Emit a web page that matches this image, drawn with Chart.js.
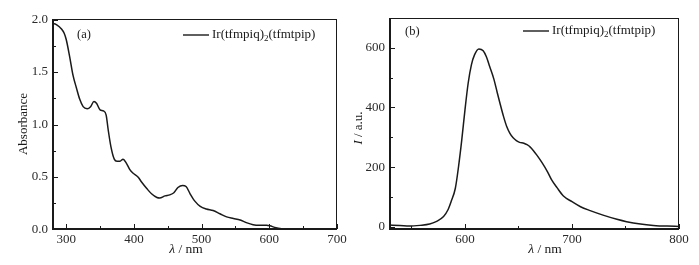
<!DOCTYPE html>
<html><head><meta charset="utf-8">
<script src="https://cdn.jsdelivr.net/npm/chart.js@4"></script>
<style>
html,body{margin:0;padding:0;background:#fff;}
#wrap{position:relative;width:699px;height:265px;overflow:hidden;}
.p{position:absolute;top:0;height:265px;}
canvas{display:block;}
</style></head><body>
<div id="wrap">
<div class="p" style="left:0;width:350px"><canvas id="ca" width="350" height="265"></canvas></div>
<div class="p" style="left:350px;width:349px"><canvas id="cb" width="349" height="265"></canvas></div>
</div>
<script>
// ---- data: (a) absorption ----
const absWavelength = [279,282,286,293,297,300,305,310,315,320,325,331,336,341,345,350,355,359,362,366,371,375,379,384,389,394,399,406,411,419,426,434,438,446,453,459,465,472,477,483,490,498,507,517,527,537,547,557,566,576,586,596,601,608,618,630,650,700];
const absValues     = [1.93,1.96,1.95,1.91,1.87,1.81,1.65,1.47,1.35,1.24,1.17,1.15,1.17,1.22,1.20,1.14,1.13,1.09,0.95,0.79,0.67,0.65,0.65,0.67,0.63,0.57,0.535,0.50,0.455,0.39,0.34,0.305,0.30,0.32,0.33,0.35,0.40,0.42,0.41,0.34,0.27,0.22,0.195,0.18,0.15,0.12,0.105,0.09,0.065,0.045,0.04,0.04,0.035,0.02,0.006,0.0,0.0,0.0];
// ---- data: (b) photoluminescence ----
const plWavelength = [529,539,548,558,567,573,580,584,587,591,594,597,600,603,606,609,613,617,620,623,627,630,633,636,639,642,645,648,651,655,658,661,664,667,672,677,681,686,692,700,708,717,729,742,751,764,776,789,800];
const plIntensity  = [5.6,4.5,2,4.5,9,17,34,56,84,129,202,291,392,482,543,577,596,590,570,538,495,452,410,370,336,313,298,289,283,280,275,267,255,241,215,185,157,131,103,84,67,54,39,25,17,9,4.5,2,1];
// ---- tick values ----
const absXMajor = [300,400,500,600,700];
const absXMinor = [350,450,550,650];
const absYMajor = [0,0.5,1.0,1.5,2.0];
const absYMinor = [0.25,0.75,1.25,1.75];
const plXMajor = [600,700,800];
const plXMinor = [550,650,750];
const plYMajor = [0,200,400,600];
const plYMinor = [100,300,500];
const seriesName = ['Ir(tfmpiq)', '2', '(tfmtpip)'];
const panelLabels = ['(a)','(b)'];

const SERIF = '"Liberation Serif", "Times New Roman", serif';
const INK = '#1a1a1a';

function framePlugin(cfg){
  return {
    id:'frame'+cfg.tag,
    afterDraw(chart){
      const ctx = chart.ctx, a = chart.chartArea;
      const xs = chart.scales.x, ys = chart.scales.y;
      ctx.save();
      ctx.strokeStyle = INK;
      ctx.lineWidth = 1;
      ctx.beginPath();
      ctx.moveTo(a.left, a.top+0.5); ctx.lineTo(a.right, a.top+0.5);
      ctx.moveTo(a.right-0.5, a.top); ctx.lineTo(a.right-0.5, a.bottom);
      ctx.stroke();
      ctx.lineWidth = 2;
      ctx.beginPath();
      ctx.moveTo(a.left+1, a.top); ctx.lineTo(a.left+1, a.bottom);
      ctx.moveTo(a.left, a.bottom-1); ctx.lineTo(a.right, a.bottom-1);
      ctx.stroke();
      ctx.lineWidth = 1;
      ctx.beginPath();
      xs.ticks.forEach(t=>{
        const px = Math.round(xs.getPixelForValue(t.value))+0.5;
        const len = cfg.xMajor.includes(t.value) ? 5 : 3;
        ctx.moveTo(px, a.bottom-1); ctx.lineTo(px, a.bottom-1-len);
      });
      ys.ticks.forEach(t=>{
        const py = Math.round(ys.getPixelForValue(t.value))+0.5;
        const len = cfg.yMajor.includes(t.value) ? 5 : 3;
        ctx.moveTo(a.left+1, py); ctx.lineTo(a.left+1+len, py);
      });
      ctx.stroke();
      ctx.fillStyle = INK;
      ctx.font = '12.5px ' + SERIF;
      ctx.textBaseline = 'middle';
      ctx.textAlign = 'left';
      ctx.fillText(cfg.panel, cfg.panelX, cfg.panelY);
      ctx.lineWidth = 1.4;
      ctx.beginPath();
      ctx.moveTo(cfg.legX, cfg.legY); ctx.lineTo(cfg.legX+26, cfg.legY);
      ctx.stroke();
      let x = cfg.legX + 29;
      ctx.font = '13px ' + SERIF;
      ctx.fillText(seriesName[0], x, cfg.legY);
      x += ctx.measureText(seriesName[0]).width;
      ctx.font = '9px ' + SERIF;
      ctx.fillText(seriesName[1], x, cfg.legY+4);
      x += ctx.measureText(seriesName[1]).width;
      ctx.font = '13px ' + SERIF;
      ctx.fillText(seriesName[2], x, cfg.legY);
      const tx1 = 'λ', tx2 = ' / nm';
      ctx.font = 'italic 13.5px ' + SERIF;
      const w1 = ctx.measureText(tx1).width;
      ctx.font = '13.5px ' + SERIF;
      const w2 = ctx.measureText(tx2).width;
      let sx = cfg.xTitleX - (w1+w2)/2;
      ctx.font = 'italic 13.5px ' + SERIF;
      ctx.fillText(tx1, sx, 249);
      ctx.font = '13.5px ' + SERIF;
      ctx.fillText(tx2, sx+w1, 249);
      ctx.translate(cfg.yTitleX, cfg.yTitleY);
      ctx.rotate(-Math.PI/2);
      const parts = cfg.yTitle;
      let tw = 0;
      parts.forEach(p=>{ ctx.font = (p[1]?'italic ':'')+'13px '+SERIF; tw += ctx.measureText(p[0]).width; });
      let cx = -tw/2;
      parts.forEach(p=>{ ctx.font = (p[1]?'italic ':'')+'13px '+SERIF; ctx.fillText(p[0], cx, 0); cx += ctx.measureText(p[0]).width; });
      ctx.restore();
    }
  };
}

function makeChart(id, xs, ys, cfg){
  const allX = cfg.xMajor.concat(cfg.xMinor).sort((p,q)=>p-q);
  const allY = cfg.yMajor.concat(cfg.yMinor).sort((p,q)=>p-q);
  return new Chart(document.getElementById(id), {
    type:'line',
    data:{ datasets:[{ label: seriesName.join(''), data: xs.map((x,i)=>({x:x, y:ys[i]})),
      borderColor: INK, borderWidth:1.5, pointRadius:0, tension:0.4, cubicInterpolationMode:'monotone', fill:false }]},
    options:{
      responsive:false, animation:false, devicePixelRatio:1,
      layout:{ padding:{ left:0, top:cfg.padTop, right:cfg.padRight, bottom:0 } },
      plugins:{ legend:{display:false}, tooltip:{enabled:false} },
      scales:{
        x:{ type:'linear', min:cfg.xMin, max:cfg.xMax,
          afterBuildTicks: s => { s.ticks = allX.map(v=>({value:v})); },
          afterFit: s => { s.height = 35; },
          grid:{ display:false, drawTicks:false, tickLength:0 }, border:{ display:false },
          ticks:{ autoSkip:false, maxRotation:0, padding:2, color:'#2a2a2a',
            font:{ family:SERIF, size:13 },
            callback: v => cfg.xMajor.includes(v) ? String(v) : '' } },
        y:{ type:'linear', min:cfg.yMin, max:cfg.yMax,
          afterBuildTicks: s => { s.ticks = allY.map(v=>({value:v})); },
          afterFit: s => { s.width = cfg.yWidth; },
          grid:{ display:false, drawTicks:false, tickLength:0 }, border:{ display:false },
          ticks:{ autoSkip:false, padding:4, color:'#2a2a2a',
            font:{ family:SERIF, size:13 },
            callback: v => cfg.yMajor.includes(v) ? cfg.fmt(v) : '' } }
      }
    },
    plugins:[framePlugin(cfg)]
  });
}

makeChart('ca', absWavelength, absValues, {
  tag:'a', xMin:279, xMax:700, yMin:-0.005, yMax:2.005,
  xMajor:absXMajor, xMinor:absXMinor, yMajor:absYMajor, yMinor:absYMinor,
  fmt: v => v.toFixed(1), padTop:19, padRight:13, yWidth:52,
  panel:panelLabels[0], panelX:77, panelY:35, legX:183, legY:35,
  xTitleX:186, yTitleX:24, yTitleY:124, yTitle:[['Absorbance',false]]
});
makeChart('cb', plWavelength, plIntensity, {
  tag:'b', xMin:529, xMax:800, yMin:-11, yMax:700,
  xMajor:plXMajor, xMinor:plXMinor, yMajor:plYMajor, yMinor:plYMinor,
  fmt: v => String(v), padTop:18, padRight:20, yWidth:39,
  panel:panelLabels[1], panelX:55, panelY:32, legX:173, legY:31,
  xTitleX:195, yTitleX:9, yTitleY:128, yTitle:[['I',true],[' / a.u.',false]]
});
</script>
</body></html>
